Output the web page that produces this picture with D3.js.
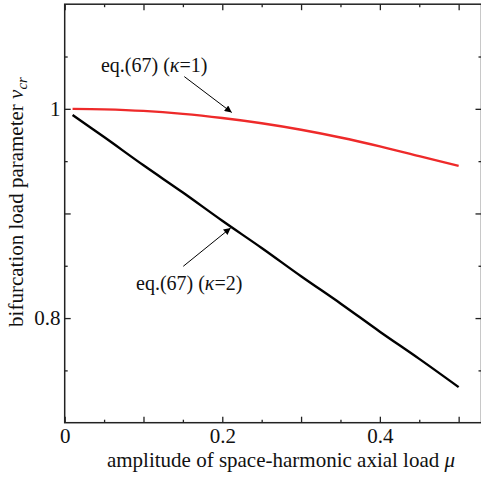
<!DOCTYPE html>
<html>
<head>
<meta charset="utf-8">
<script src="https://cdn.jsdelivr.net/npm/d3@7"></script>
<style>
  body { margin: 0; background: #fff; }
  svg { display: block; font-family: "Liberation Serif", "Times New Roman", serif; }
  svg text { font-family: "Liberation Serif", "Times New Roman", serif; }
</style>
</head>
<body>
<div id="chart"></div>
<script>
// amplitude mu
const mu = [0.01, 0.05, 0.1, 0.15, 0.2, 0.25, 0.3, 0.35, 0.4, 0.45, 0.5];
// eq.(67) kappa=1 (red)
const nuK1 = [1.000, 0.9995, 0.998, 0.9952, 0.9912, 0.9862, 0.980, 0.9726, 0.9641, 0.9548, 0.9455];
// eq.(67) kappa=2 (black)
const nuK2 = [0.994, 0.973, 0.946, 0.920, 0.893, 0.867, 0.840, 0.814, 0.787, 0.761, 0.734];

const xMajor = [0, 0.1, 0.2, 0.3, 0.4, 0.5];
const xMinor = [0.05, 0.15, 0.25, 0.35, 0.45];
const xLabels = ["0", "", "0.2", "", "0.4", ""];
const yMajor = [0.8, 0.9, 1.0];
const yMinor = [0.75, 0.85, 0.95, 1.05];
const yLabels = ["0.8", "", "1"];

// annotations: [text mu, text nu, tail mu, tail nu, tip mu, tip nu]
const annK1 = [0.046, 1.0356, 0.1518, 1.0308, 0.212, 0.9965];
const annK2 = [0.0905, 0.8273, 0.1505, 0.8495, 0.2107, 0.8862];

const width = 481, height = 481;
const fontSize = 21;

const x = d3.scaleLinear().domain([0, 0.529]).range([64.7, 481.5]);
const y = d3.scaleLinear().domain([0.7, 1.1]).range([422.7, 4.2]);

const svg = d3.select("#chart").append("svg")
  .attr("width", width)
  .attr("height", height);

svg.append("defs").append("marker")
  .attr("id", "arrow")
  .attr("viewBox", "0 0 10 10")
  .attr("refX", 10).attr("refY", 5)
  .attr("markerWidth", 10).attr("markerHeight", 7)
  .attr("markerUnits", "userSpaceOnUse")
  .attr("orient", "auto")
  .append("path")
  .attr("d", "M0,0 L10,5 L0,10 Z")
  .attr("fill", "#000");

function styleAxis(g) {
  g.attr("font-family", null).attr("font-size", null);
  g.select(".domain").remove();
  g.selectAll(".tick line").attr("stroke", "#222").attr("stroke-width", 1.3);
  g.selectAll(".tick text")
    .attr("fill", "#111")
    .style("font-size", fontSize + "px");
}

const fmtX = d => xLabels[xMajor.findIndex(v => Math.abs(v - d) < 1e-9)];
const fmtY = d => yLabels[yMajor.findIndex(v => Math.abs(v - d) < 1e-9)];

// bottom
svg.append("g").attr("transform", `translate(0,${y(0.7)})`)
  .call(d3.axisBottom(x).tickValues(xMajor).tickSize(-6).tickPadding(5.5).tickFormat(fmtX))
  .call(styleAxis);
svg.append("g").attr("transform", `translate(0,${y(0.7)})`)
  .call(d3.axisBottom(x).tickValues(xMinor).tickSize(-3).tickFormat(""))
  .call(styleAxis);
// top
svg.append("g").attr("transform", `translate(0,${y(1.1)})`)
  .call(d3.axisTop(x).tickValues(xMajor).tickSize(-6).tickFormat(""))
  .call(styleAxis);
svg.append("g").attr("transform", `translate(0,${y(1.1)})`)
  .call(d3.axisTop(x).tickValues(xMinor).tickSize(-3).tickFormat(""))
  .call(styleAxis);
// left
svg.append("g").attr("transform", `translate(${x(0)},0)`)
  .call(d3.axisLeft(y).tickValues(yMajor).tickSize(-6).tickPadding(4.2).tickFormat(fmtY))
  .call(styleAxis);
svg.append("g").attr("transform", `translate(${x(0)},0)`)
  .call(d3.axisLeft(y).tickValues(yMinor).tickSize(-3).tickFormat(""))
  .call(styleAxis);
// right
svg.append("g").attr("transform", `translate(${x(0.529)},0)`)
  .call(d3.axisRight(y).tickValues(yMajor).tickSize(-6).tickFormat(""))
  .call(styleAxis);
svg.append("g").attr("transform", `translate(${x(0.529)},0)`)
  .call(d3.axisRight(y).tickValues(yMinor).tickSize(-3).tickFormat(""))
  .call(styleAxis);

// frame
svg.append("rect")
  .attr("x", x(0)).attr("y", y(1.1))
  .attr("width", x(0.529) - x(0))
  .attr("height", y(0.7) - y(1.1))
  .attr("fill", "none")
  .attr("stroke", "#222")
  .attr("stroke-width", 1.5);

// curves
const line = d3.line().curve(d3.curveCatmullRom).x(d => x(d[0])).y(d => y(d[1]));

svg.append("path")
  .datum(mu.map((m, i) => [m, nuK2[i]]))
  .attr("d", line)
  .attr("fill", "none")
  .attr("stroke", "#000")
  .attr("stroke-width", 2.4);

svg.append("path")
  .datum(mu.map((m, i) => [m, nuK1[i]]))
  .attr("d", line)
  .attr("fill", "none")
  .attr("stroke", "#ee2a2a")
  .attr("stroke-width", 2.4);

// annotations
function annotate(a, k) {
  svg.append("line")
    .attr("x1", x(a[2])).attr("y1", y(a[3]))
    .attr("x2", x(a[4])).attr("y2", y(a[5]))
    .attr("stroke", "#000")
    .attr("stroke-width", 1)
    .attr("marker-end", "url(#arrow)");
  const t = svg.append("text")
    .attr("x", x(a[0])).attr("y", y(a[1]))
    .style("font-size", "20px")
    .attr("fill", "#111");
  t.append("tspan").text("eq.(67) (");
  t.append("tspan").style("font-style", "italic").text("\u03BA");
  t.append("tspan").text("=" + k + ")");
}
annotate(annK1, 1);
annotate(annK2, 2);

// axis titles
const xt = svg.append("text")
  .attr("x", 281).attr("y", 467)
  .attr("text-anchor", "middle")
  .style("font-size", fontSize + "px")
  .attr("fill", "#111");
xt.append("tspan").text("amplitude of space-harmonic axial load ");
xt.append("tspan").style("font-style", "italic").text("\u03BC");

const yt = svg.append("text")
  .attr("transform", "translate(23,202) rotate(-90)")
  .attr("text-anchor", "middle")
  .style("font-size", fontSize + "px")
  .attr("fill", "#111");
yt.append("tspan").text("bifurcation load parameter ");
yt.append("tspan").style("font-style", "italic").text("\u03BD");
yt.append("tspan").style("font-style", "italic").style("font-size", "15px").attr("dy", 4).text("cr");
</script>
</body>
</html>
